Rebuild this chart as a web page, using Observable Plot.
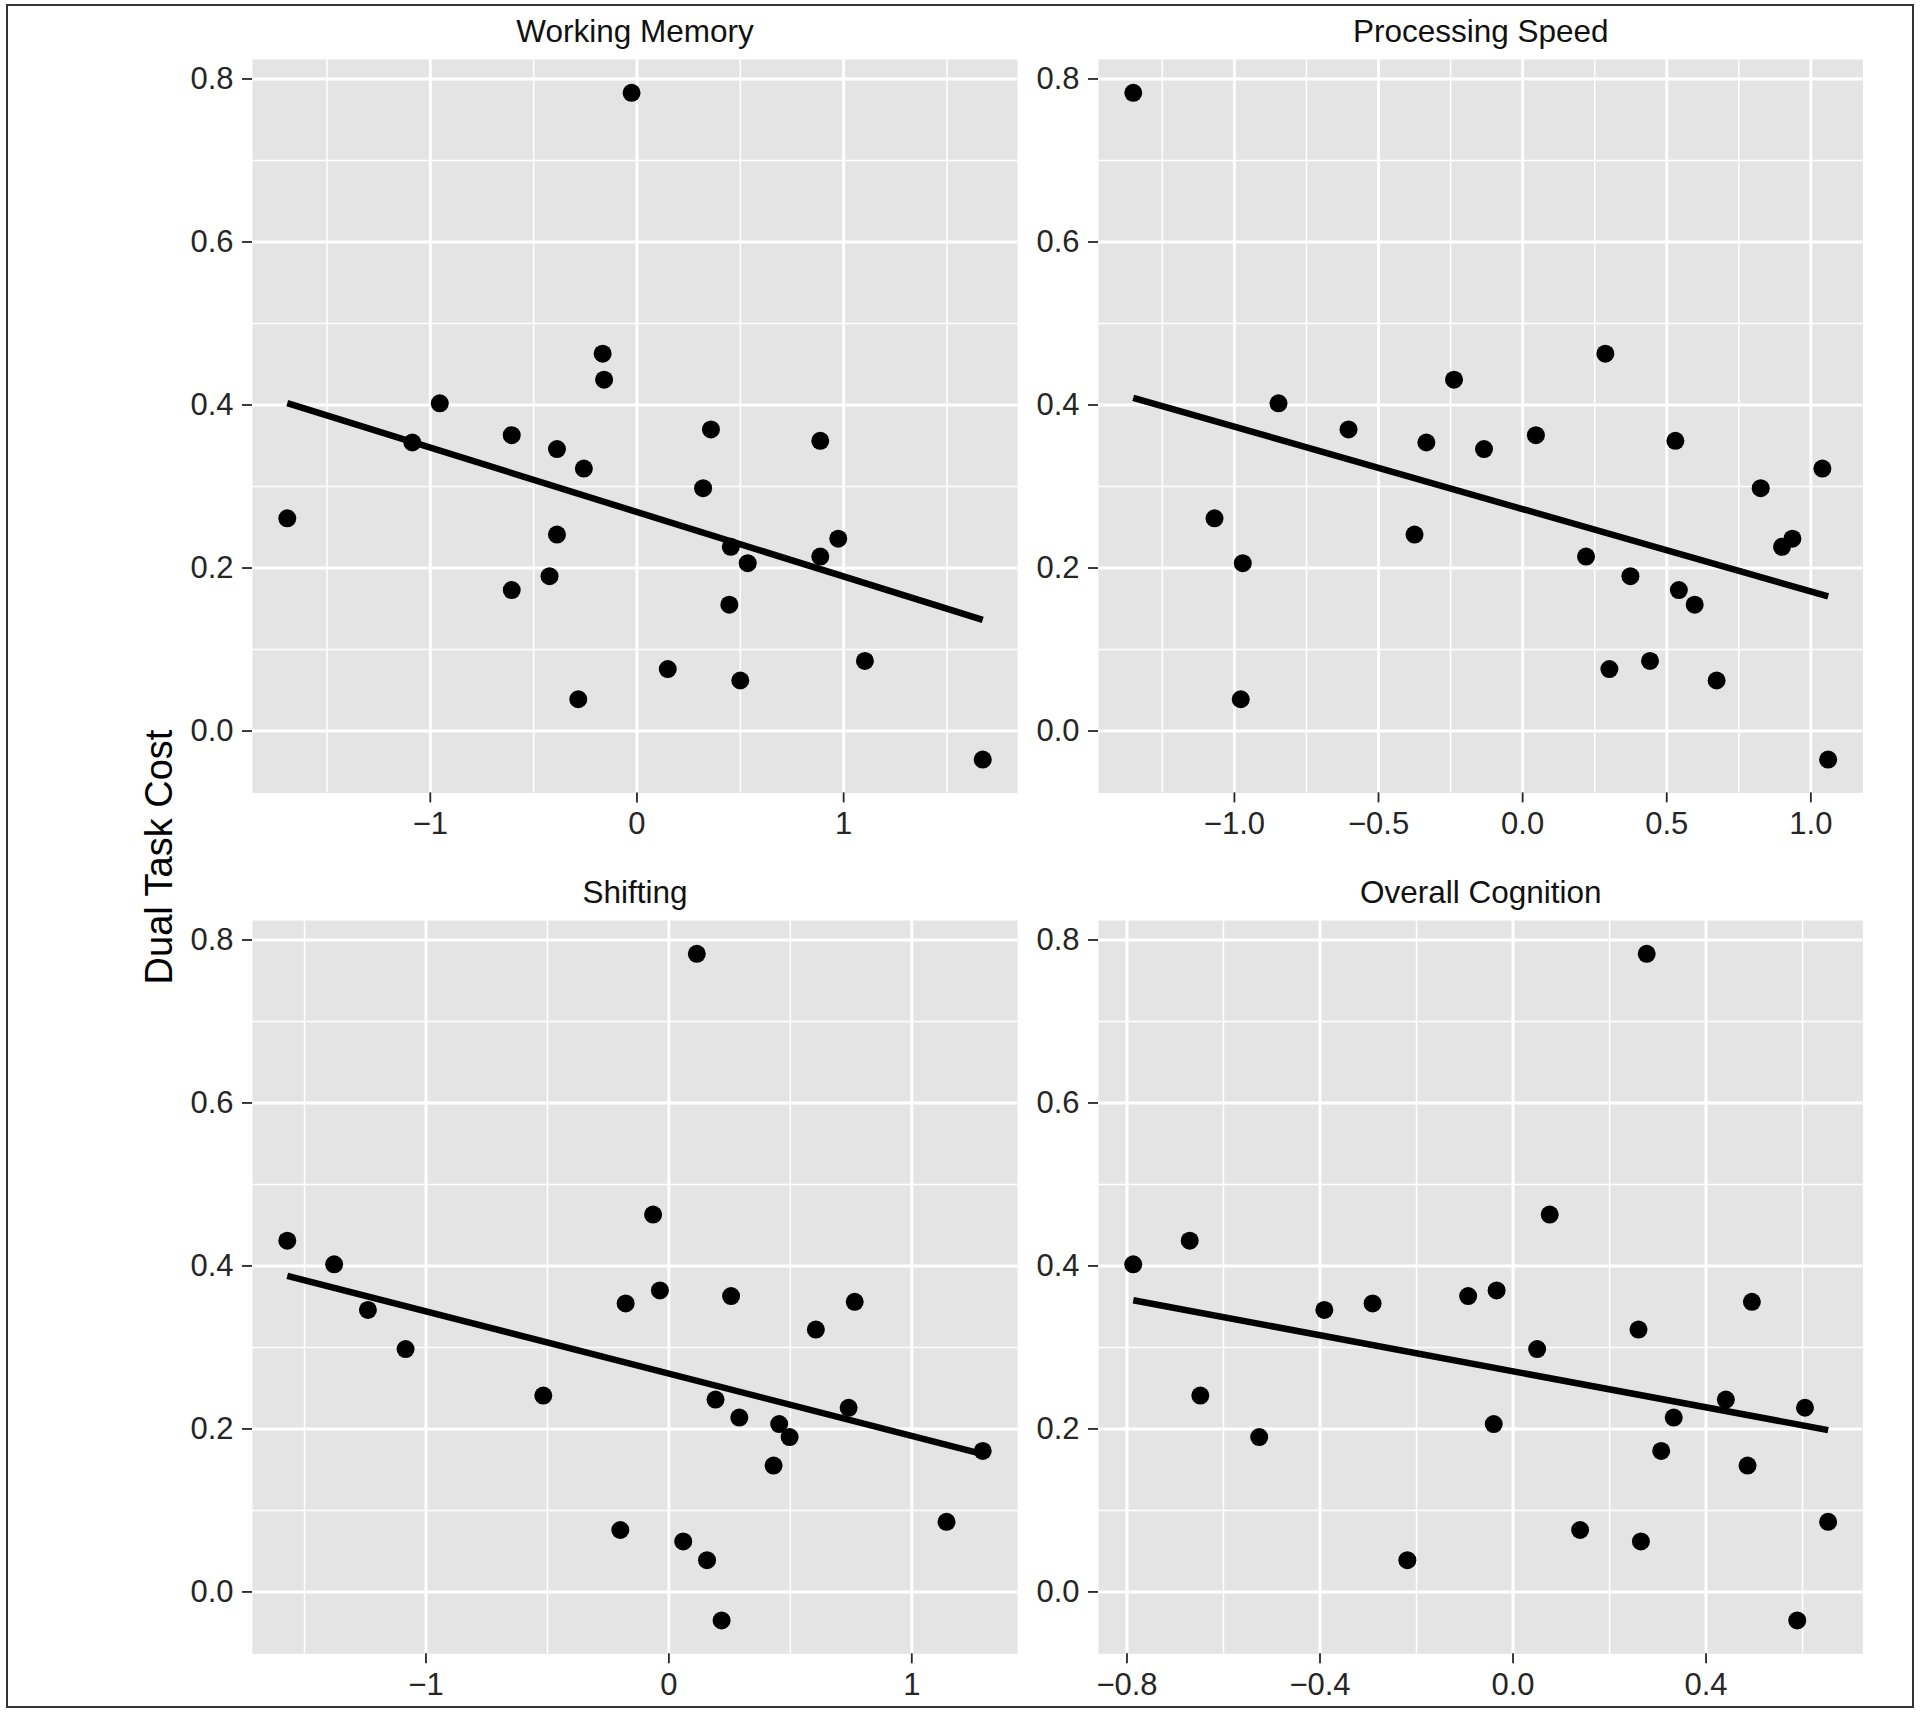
<!DOCTYPE html>
<html>
<head>
<meta charset="utf-8">
<script src="https://cdn.jsdelivr.net/npm/d3@7"></script>
<script src="https://cdn.jsdelivr.net/npm/@observablehq/plot@0.6"></script>
<style>
  body { margin: 0; background: #fff; }
  #fig { position: relative; width: 1920px; height: 1712px; background: #fff; overflow: hidden;
         font-family: "Liberation Sans", Arial, Helvetica, sans-serif; }
  #border { position: absolute; left: 6px; top: 4px; width: 1908px; height: 1704px;
            box-sizing: border-box; border: 2px solid #333; }
  .panel { position: absolute; }
  #ytitle { position: absolute; left: 158.5px; top: 857px; transform: translate(-50%, -50%) rotate(-90deg);
            font-size: 38px; line-height: 1; white-space: nowrap; color: #000; }
</style>
</head>
<body>
<div id="fig">
  <div id="border"></div>
  <div id="ytitle">Dual Task Cost</div>
</div>
<script>
// ---- data (one row per participant) ----
const dualTaskCost     = [0.783, 0.463, 0.431, 0.402, 0.370, 0.363, 0.354, 0.356, 0.346, 0.322, 0.298, 0.261, 0.241, 0.236, 0.226, 0.214, 0.206, 0.190, 0.173, 0.155, 0.086, 0.076, 0.062, 0.039, -0.035];
const workingMemory    = [-0.026, -0.166, -0.159, -0.954, 0.358, -0.606, -1.087, 0.887, -0.387, -0.257, 0.320, -1.692, -0.387, 0.974, 0.454, 0.887, 0.536, -0.423, -0.606, 0.447, 1.103, 0.149, 0.500, -0.284, 1.673];
const processingSpeed  = [-1.351, 0.287, -0.238, -0.847, -0.604, 0.046, -0.334, 0.530, -0.134, 1.040, 0.826, -1.069, -0.375, 0.936, 0.900, 0.220, -0.971, 0.374, 0.542, 0.597, 0.442, 0.301, 0.673, -0.978, 1.060];
const shifting         = [0.115, -0.065, -1.571, -1.378, -0.037, 0.256, -0.178, 0.765, -1.239, 0.605, -1.084, null, -0.517, 0.192, 0.740, 0.290, 0.454, 0.497, 1.292, 0.431, 1.143, -0.200, 0.059, 0.157, 0.217];
const overallCognition = [0.277, 0.076, -0.670, -0.787, -0.034, -0.093, -0.291, 0.495, -0.391, 0.260, 0.050, null, -0.648, 0.441, 0.605, 0.333, -0.040, -0.526, 0.307, 0.486, 0.653, 0.139, 0.265, -0.219, 0.589];

const panelTitles = ["Working Memory", "Processing Speed", "Shifting", "Overall Cognition"];
const yLabel = "Dual Task Cost";

// ---- tick values ----
const yTicks = [0, 0.2, 0.4, 0.6, 0.8];
const yMinor = [0.1, 0.3, 0.5, 0.7];
const wmTicks = [-1, 0, 1],            wmMinor = [-1.5, -0.5, 0.5, 1.5];
const psTicks = [-1, -0.5, 0, 0.5, 1], psMinor = [-1.25, -0.75, -0.25, 0.25, 0.75];
const shTicks = [-1, 0, 1],            shMinor = [-1.5, -0.5, 0.5];
const ocTicks = [-0.8, -0.4, 0, 0.4],  ocMinor = [-0.6, -0.2, 0.2, 0.6];

const FONT = '"Liberation Sans", Arial, Helvetica, sans-serif';

function expand([lo, hi]) { const e = (hi - lo) * 0.05; return [lo - e, hi + e]; }
const yDomain = expand(d3.extent(dualTaskCost));

const panels = [
  {title: panelTitles[0], x: workingMemory,    ticks: wmTicks, minor: wmMinor, fmt: d3.format("d"),   left: 251.7,  top: 59.3, w: 765,   h: 733.4},
  {title: panelTitles[1], x: processingSpeed,  ticks: psTicks, minor: psMinor, fmt: d3.format(".1f"), left: 1098.3, top: 59.3, w: 764.4, h: 733.4},
  {title: panelTitles[2], x: shifting,         ticks: shTicks, minor: shMinor, fmt: d3.format("d"),   left: 251.7,  top: 920,  w: 765,   h: 733.3},
  {title: panelTitles[3], x: overallCognition, ticks: ocTicks, minor: ocMinor, fmt: d3.format(".1f"), left: 1098.3, top: 920,  w: 764.4, h: 733.3}
];

const fig = document.getElementById("fig");
const ml = 110, mr = 20, mt = 60, mb = 60;

for (const p of panels) {
  const rows = dualTaskCost.map((y, i) => ({x: p.x[i], y})).filter(d => d.x != null);
  const chart = Plot.plot({
    width: ml + p.w + mr,
    height: mt + p.h + mb,
    marginLeft: ml, marginRight: mr, marginTop: mt, marginBottom: mb,
    style: {background: "transparent", overflow: "visible", fontFamily: FONT, fontSize: "31px", color: "#262626"},
    x: {domain: expand(d3.extent(rows, d => d.x)), label: null},
    y: {domain: yDomain, label: null},
    marks: [
      Plot.frame({fill: "#E4E4E4", stroke: null}),
      Plot.ruleX(p.minor, {stroke: "white", strokeWidth: 1.5}),
      Plot.ruleY(yMinor, {stroke: "white", strokeWidth: 1.5}),
      Plot.ruleX(p.ticks, {stroke: "white", strokeWidth: 3}),
      Plot.ruleY(yTicks, {stroke: "white", strokeWidth: 3}),
      Plot.axisX({ticks: p.ticks, tickFormat: p.fmt, tickSize: 10, tickPadding: 9, strokeWidth: 1.8, fontSize: 31, label: null}),
      Plot.axisY({ticks: yTicks, tickFormat: d3.format(".1f"), tickSize: 10, tickPadding: 9, strokeWidth: 1.8, fontSize: 31, label: null}),
      Plot.linearRegressionY(rows, {x: "x", y: "y", ci: 0, stroke: "black", strokeWidth: 6.5, strokeLinecap: "butt"}),
      Plot.dot(rows, {x: "x", y: "y", r: 9, fill: "black", stroke: null}),
      Plot.text([p.title], {frameAnchor: "top", dy: -17, lineAnchor: "bottom", fontSize: 31.5, fill: "#111"})
    ]
  });
  chart.classList.add("panel");
  chart.style.left = (p.left - ml) + "px";
  chart.style.top = (p.top - mt) + "px";
  chart.style.position = "absolute";
  chart.style.maxWidth = "none";
  fig.appendChild(chart);
}
</script>
</body>
</html>
